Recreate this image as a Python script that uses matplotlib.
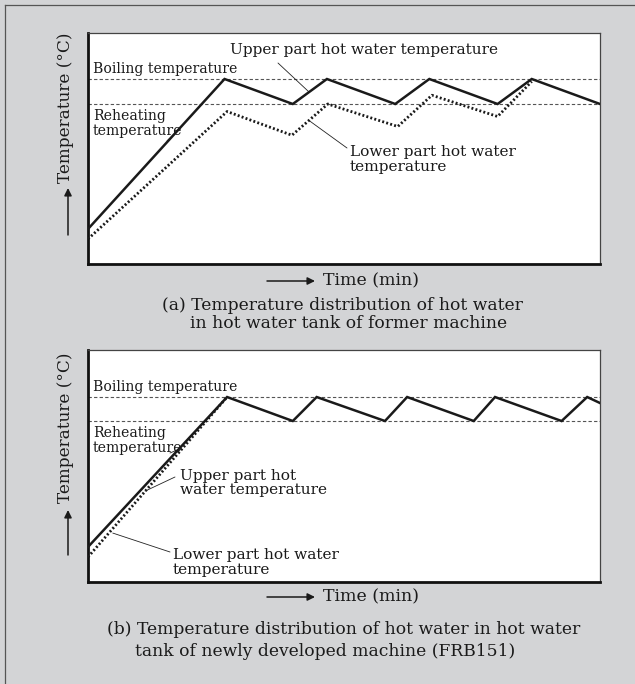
import matplotlib
matplotlib.use("Agg")
import matplotlib.pyplot as plt
from matplotlib.lines import Line2D

plt.rcParams['font.family'] = ['DejaVu Serif']

# (a) former machine: time (min) vs temperature (deg C)
t_up_a = [0, 16, 24, 28, 36, 40, 48, 52, 60]
T_up_a = [25, 85, 75, 85, 75, 85, 75, 85, 75]
t_lo_a = [0, 16.3, 23.9, 28.1, 36.3, 40.3, 48.0, 52.0]
T_lo_a = [21, 72, 62.5, 75, 66, 78.5, 70, 84]

# (b) newly developed machine (FRB151)
t_up_b = [0, 16.3, 24.0, 26.8, 34.8, 37.4, 45.2, 47.7, 55.5, 58.5, 60]
T_up_b = [22.5, 85, 75, 85, 75, 85, 75, 85, 75, 85, 82.5]
t_lo_b = [0, 16.3]
T_lo_b = [18.3, 85]

boiling = 85
reheating = 75

W, H = 635, 684
BG = '#d3d4d6'


def fp(x, y):
    # pixel position -> figure fraction
    return (x / W, 1 - y / H)


fig = plt.figure(figsize=(W / 100, H / 100), dpi=100, facecolor=BG)

# outer frame (top and left edges visible)
fig.add_artist(Line2D([5 / W, 1], [1 - 5 / H, 1 - 5 / H], transform=fig.transFigure, color='#555555', lw=0.9))
fig.add_artist(Line2D([5 / W, 5 / W], [0, 1 - 5 / H], transform=fig.transFigure, color='#555555', lw=0.9))


def make_axes(top, bottom, ylim):
    ax = fig.add_axes([88 / W, 1 - bottom / H, (600 - 88) / W, (bottom - top) / H])
    ax.set_facecolor('white')
    ax.set_xlim(0, 60)
    ax.set_ylim(*ylim)
    ax.set_xticks([])
    ax.set_yticks([])
    for s in ['left', 'bottom']:
        ax.spines[s].set_linewidth(2.0)
        ax.spines[s].set_color('#111111')
    for s in ['top', 'right']:
        ax.spines[s].set_linewidth(0.9)
        ax.spines[s].set_color('#444444')
    ax.axhline(boiling, color='#555555', lw=0.8, ls=(0, (3, 2)))
    ax.axhline(reheating, color='#555555', lw=0.8, ls=(0, (3, 2)))
    return ax


def txt(x, y, s, size, **kw):
    fig.text(*fp(x, y), s, fontsize=size, va='center', ha='left', color='#1a1a1a', **kw)


def leader(ax, xy, xpx, ypx):
    ax.annotate('', xy=xy, xycoords='data', xytext=fp(xpx, ypx), textcoords='figure fraction',
                arrowprops=dict(arrowstyle='-', lw=0.6, color='#222222', shrinkA=0, shrinkB=0))


def arrow(x0, y0, x1, y1):
    fig.add_artist(matplotlib.patches.FancyArrowPatch(fp(x0, y0), fp(x1, y1), transform=fig.transFigure,
                                                      arrowstyle='-|>', mutation_scale=11, lw=1.1,
                                                      color='#1a1a1a', shrinkA=0, shrinkB=0))


# ---- (a)
ax1 = make_axes(33, 264, (11, 103.4))
ax1.plot(t_lo_a, T_lo_a, color='#1a1a1a', lw=2.0, ls=(0, (0.7, 0.8)), zorder=3)
ax1.plot(t_up_a, T_up_a, color='#1a1a1a', lw=1.8, zorder=4, solid_joinstyle='miter')

txt(230, 50, 'Upper part hot water temperature', 11.1)
txt(93, 69, 'Boiling temperature', 10.1)
txt(93, 123.5, 'Reheating\ntemperature', 10.1, linespacing=1.05)
txt(350, 159.5, 'Lower part hot water\ntemperature', 11.1, linespacing=1.05)
leader(ax1, (25.9, 79.8), 278, 63)
leader(ax1, (25.9, 68.4), 347, 148)
leader(ax1, (10.2, 63.4), 167, 141)

fig.text(*fp(66, 108), 'Temperature (°C)', fontsize=12.2, rotation=90, va='center', ha='center', color='#1a1a1a')
arrow(68, 235, 68, 188)
arrow(267, 281, 315, 281)
txt(323, 281, 'Time (min)', 12.5)
txt(162, 305, '(a) Temperature distribution of hot water', 12.3)
txt(190, 323, 'in hot water tank of former machine', 12.3)

# ---- (b)
ax2 = make_axes(350, 582, (7.9, 104.6))
ax2.plot(t_lo_b, T_lo_b, color='#1a1a1a', lw=2.0, ls=(0, (0.7, 0.8)), zorder=3)
ax2.plot(t_up_b, T_up_b, color='#1a1a1a', lw=1.8, zorder=4, solid_joinstyle='miter')

txt(93, 387, 'Boiling temperature', 10.1)
txt(93, 440.5, 'Reheating\ntemperature', 10.1, linespacing=1.05)
txt(180, 483, 'Upper part hot\nwater temperature', 11.1, linespacing=1.05)
txt(173, 562.5, 'Lower part hot water\ntemperature', 11.1, linespacing=1.05)
leader(ax2, (6.7, 45.8), 175, 477)
leader(ax2, (2.9, 28.3), 170, 552)
leader(ax2, (10.5, 63.0), 170, 453)

fig.text(*fp(66, 428), 'Temperature (°C)', fontsize=12.2, rotation=90, va='center', ha='center', color='#1a1a1a')
arrow(68, 555, 68, 510)
arrow(267, 597, 315, 597)
txt(323, 597, 'Time (min)', 12.5)
txt(107, 630, '(b) Temperature distribution of hot water in hot water', 12.3)
txt(135, 652, 'tank of newly developed machine (FRB151)', 12.3)

fig.savefig('out.png', dpi=100, facecolor=BG)
